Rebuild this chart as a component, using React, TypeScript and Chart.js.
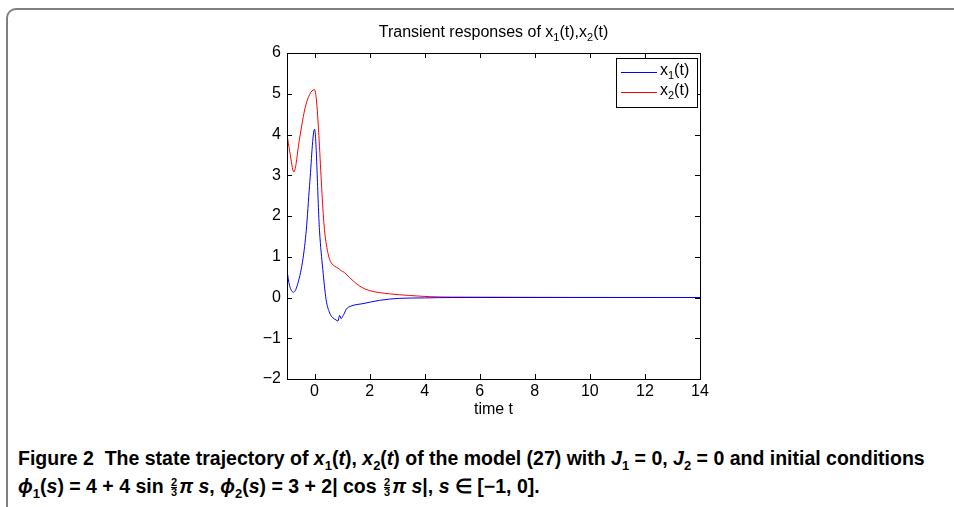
import React, { useEffect, useRef } from "react";
import { Chart, registerables } from "chart.js";

Chart.register(...registerables);

// ---- data ----
const x1Time = [-1, -0.91, -0.76, -0.6, -0.42, -0.3, -0.18, 0, 0.18, 0.3, 0.42, 0.55, 0.67, 0.78, 0.85, 0.91, 0.97, 1.03, 1.09, 1.15, 1.33, 1.76, 2.36, 3.1, 4, 5, 14];
const x1Values = [0.66, 0.3, 0.13, 0.36, 0.95, 1.65, 2.75, 4.13, 1.65, 0.69, -0.05, -0.38, -0.5, -0.55, -0.58, -0.44, -0.52, -0.45, -0.38, -0.29, -0.21, -0.15, -0.07, -0.02, -0.01, 0, 0];

const x2Time = [-1, -0.9, -0.75, -0.55, -0.36, -0.18, 0, 0.36, 0.5, 0.6, 0.73, 0.85, 0.91, 0.97, 1.09, 1.27, 1.64, 2.0, 2.73, 3.45, 4.2, 5, 14];
const x2Values = [4.0, 3.58, 3.08, 3.87, 4.6, 4.98, 5.1, 1.67, 1.05, 0.86, 0.77, 0.72, 0.69, 0.66, 0.61, 0.49, 0.28, 0.17, 0.09, 0.05, 0.02, 0.01, 0];

const xTickValues = [0, 2, 4, 6, 8, 10, 12, 14];
const yTickValues = [-2, -1, 0, 1, 2, 3, 4, 5, 6];
const xRange = [-1, 14];
const yRange = [-2, 6];

const seriesLabels = ["1", "2"]; // subscripts of x_i(t)
const seriesColors = ["#0000ff", "#ff0000"];
const titleParts: [string, boolean][] = [
  ["Transient responses of x", false],
  ["1", true],
  ["(t),x", false],
  ["2", true],
  ["(t)", false],
];
const xAxisTitle = "time t";

const FONT = "'Liberation Sans', Arial, Helvetica, sans-serif";
const FS = 16;

function drawSubText(ctx: CanvasRenderingContext2D, parts: [string, boolean][], x: number, y: number, align: "left" | "center") {
  const main = `${FS}px ${FONT}`;
  const sub = `11px ${FONT}`;
  let total = 0;
  const widths = parts.map(([t, s]) => {
    ctx.font = s ? sub : main;
    const w = ctx.measureText(t).width;
    total += w;
    return w;
  });
  let cx = align === "center" ? x - total / 2 : x;
  ctx.textBaseline = "alphabetic";
  ctx.textAlign = "left";
  ctx.fillStyle = "#000";
  parts.forEach(([t, s], i) => {
    ctx.font = s ? sub : main;
    ctx.fillText(t, cx, s ? y + 4 : y);
    cx += widths[i];
  });
}

const framePlugin = {
  id: "matlabFrame",
  afterDraw(chart: any) {
    const ctx: CanvasRenderingContext2D = chart.ctx;
    const { left, right, top, bottom } = chart.chartArea;
    const xs = chart.scales.x;
    const ys = chart.scales.y;
    ctx.save();
    ctx.strokeStyle = "#000";
    ctx.lineWidth = 1;
    const tl = 5;
    ctx.beginPath();
    xTickValues.forEach((v) => {
      const px = Math.round(xs.getPixelForValue(v)) + 0.5;
      ctx.moveTo(px, bottom);
      ctx.lineTo(px, bottom - tl);
      ctx.moveTo(px, top);
      ctx.lineTo(px, top + tl);
    });
    yTickValues.forEach((v) => {
      const py = Math.round(ys.getPixelForValue(v)) + 0.5;
      ctx.moveTo(left, py);
      ctx.lineTo(left + tl, py);
      ctx.moveTo(right, py);
      ctx.lineTo(right - tl, py);
    });
    ctx.stroke();
    ctx.strokeRect(Math.round(left) + 0.5, Math.round(top) + 0.5, Math.round(right - left), Math.round(bottom - top));

    // title
    drawSubText(ctx, titleParts, (left + right) / 2, top - 16, "center");

    // legend
    const lx0 = right - 84;
    const ly0 = top + 5;
    const lw = 81;
    const lh = 49;
    ctx.fillStyle = "#fff";
    ctx.fillRect(lx0, ly0, lw, lh);
    ctx.strokeStyle = "#000";
    ctx.strokeRect(Math.round(lx0) + 0.5, Math.round(ly0) + 0.5, lw, lh);
    seriesLabels.forEach((s, i) => {
      const ly = ly0 + 14 + i * 20;
      ctx.strokeStyle = seriesColors[i];
      ctx.beginPath();
      ctx.moveTo(lx0 + 5, ly + 0.5);
      ctx.lineTo(lx0 + 41, ly + 0.5);
      ctx.stroke();
      drawSubText(ctx, [["x", false], [s, true], ["(t)", false]], lx0 + 44, ly + 3, "left");
    });
    ctx.restore();
  },
};

function ChartView() {
  const ref = useRef<HTMLCanvasElement>(null);
  useEffect(() => {
    if (!ref.current) return;
    const chart = new Chart(ref.current, {
      type: "line",
      data: {
        datasets: [
          {
            label: "x1(t)",
            data: x1Time.map((t, i) => ({ x: t, y: x1Values[i] })),
            borderColor: seriesColors[0],
            borderWidth: 1,
            pointRadius: 0,
            cubicInterpolationMode: "monotone",
            fill: false,
          },
          {
            label: "x2(t)",
            data: x2Time.map((t, i) => ({ x: t, y: x2Values[i] })),
            borderColor: seriesColors[1],
            borderWidth: 1,
            pointRadius: 0,
            cubicInterpolationMode: "monotone",
            fill: false,
          },
        ],
      },
      options: {
        animation: false,
        responsive: false,
        layout: { padding: { left: 0, top: 53, right: 254, bottom: 11 } },
        plugins: { legend: { display: false }, title: { display: false }, tooltip: { enabled: false } },
        scales: {
          x: {
            type: "linear",
            min: xRange[0],
            max: xRange[1],
            afterBuildTicks: (s: any) => {
              s.ticks = xTickValues.map((v) => ({ value: v }));
            },
            afterFit: (s: any) => {
              s.height = 40;
            },
            grid: { display: false, drawTicks: false },
            border: { display: false },
            ticks: {
              color: "#000",
              font: { family: FONT, size: FS },
              padding: 3,
              maxRotation: 0,
              autoSkip: false,
              callback: (v: any) => String(v),
            },
            title: {
              display: true,
              text: xAxisTitle,
              color: "#000",
              font: { family: FONT, size: FS },
              padding: { top: 0, bottom: 0 },
            },
          },
          y: {
            type: "linear",
            min: yRange[0],
            max: yRange[1],
            afterBuildTicks: (s: any) => {
              s.ticks = yTickValues.map((v) => ({ value: v }));
            },
            afterFit: (s: any) => {
              s.width = 287;
            },
            grid: { display: false, drawTicks: false },
            border: { display: false },
            ticks: {
              color: "#000",
              font: { family: FONT, size: FS },
              padding: 6,
              autoSkip: false,
              callback: (v: any) => String(v).replace("-", "\u2212"),
            },
          },
        },
      },
      plugins: [framePlugin],
    } as any);
    return () => chart.destroy();
  }, []);
  return <canvas ref={ref} width={954} height={430} style={{ width: 954, height: 430, display: "block" }} />;
}

function Frac() {
  return (
    <span
      style={{
        display: "inline-flex",
        flexDirection: "column",
        verticalAlign: "middle",
        fontSize: 11,
        lineHeight: "9px",
        height: 19,
        textAlign: "center",
        margin: "0 2px",
        fontStyle: "normal",
      }}
    >
      <span style={{ borderBottom: "1px solid #000" }}>2</span>
      <span>3</span>
    </span>
  );
}

const subStyle: React.CSSProperties = { fontSize: 13, lineHeight: 0 };

export default function App() {
  return (
    <div style={{ position: "absolute", left: 0, top: 0, width: 954, height: 507, overflow: "hidden", background: "#fff" }}>
      <div
        style={{
          position: "absolute",
          left: 6,
          top: 8,
          width: 1100,
          height: 700,
          borderTop: "2px solid #7f7f7f",
          borderLeft: "2px solid #7f7f7f",
          borderTopLeftRadius: 10,
        }}
      />
      <div style={{ position: "absolute", left: 0, top: 0 }}>
        <ChartView />
      </div>
      <div
        style={{
          position: "absolute",
          left: 18,
          top: 444,
          width: 930,
          fontFamily: "'Liberation Sans Narrow', 'Liberation Sans', Arial, sans-serif",
          fontWeight: "bold",
          fontSize: 19.5,
          lineHeight: "28px",
          color: "#000",
          whiteSpace: "nowrap",
        }}
      >
        <div style={{ height: 28 }}>
          Figure 2&nbsp; The state trajectory of <i>x</i>
          <sub style={subStyle}>1</sub>(<i>t</i>), <i>x</i>
          <sub style={subStyle}>2</sub>(<i>t</i>) of the model (27) with <i>J</i>
          <sub style={subStyle}>1</sub> = 0, <i>J</i>
          <sub style={subStyle}>2</sub> = 0 and initial conditions
        </div>
        <div style={{ height: 28 }}>
          <i>ϕ</i>
          <sub style={subStyle}>1</sub>(<i>s</i>) = 4 + 4 sin <Frac />
          <i>π s</i>, <i>ϕ</i>
          <sub style={subStyle}>2</sub>(<i>s</i>) = 3 + 2| cos <Frac />
          <i>π s</i>|, <i>s</i> ∈ [−1, 0].
        </div>
      </div>
    </div>
  );
}
